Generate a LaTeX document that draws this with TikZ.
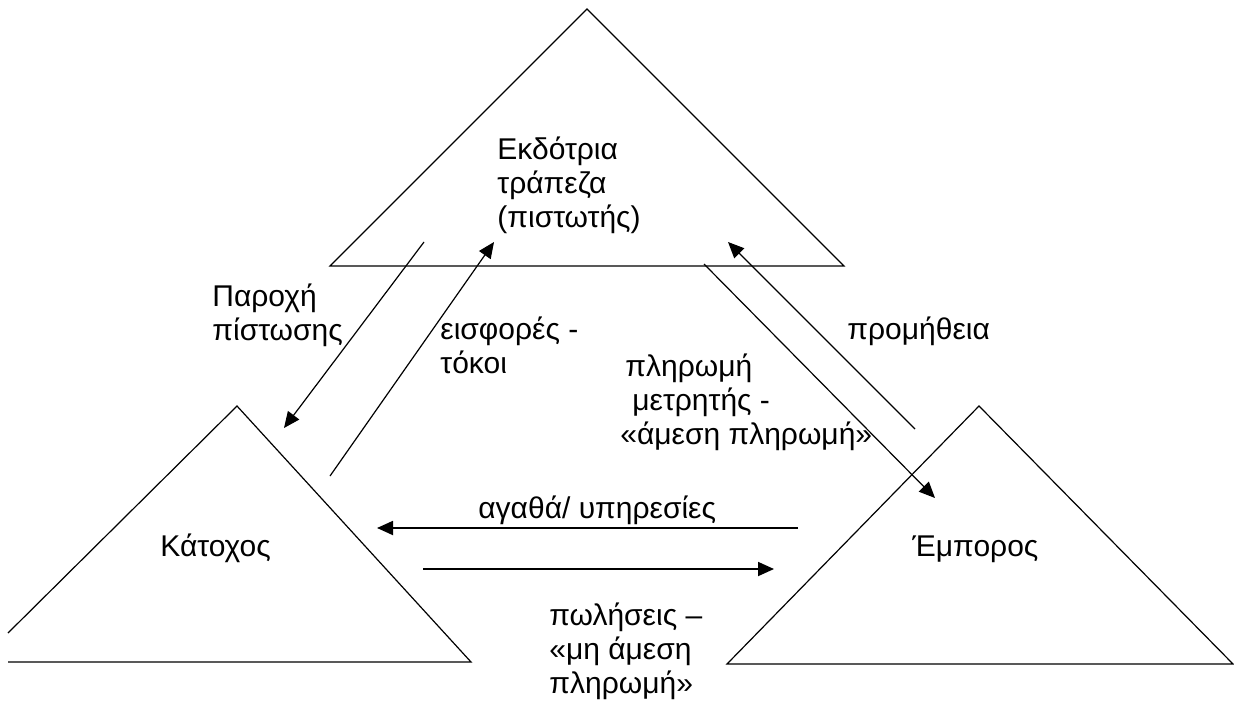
\documentclass[tikz,border=0pt]{standalone}
\usepackage{fontspec}
\setmainfont{Liberation Sans}
\usetikzlibrary{arrows.meta}

\begin{document}
\begin{tikzpicture}[x=0.5pt, y=-0.5pt,
    font=\fontsize{15}{17}\selectfont,
    tri/.style={line width=0.6pt, line join=miter},
    flow/.style={line width=0.6pt, -{Triangle[length=8pt, width=7pt]}},
    flowh/.style={line width=0.9pt, -{Triangle[length=8pt, width=7pt]}},
    lbl/.style={anchor=base west, inner sep=0pt, align=left}]
    \useasboundingbox (0,0) rectangle (1234,706);

    % three parties
    \draw[tri] (587,9) -- (330,266) -- (844,266) -- cycle;
    \draw[tri] (8,633) -- (237,406) -- (471,662) -- (8,662);
    \draw[tri] (979,406) -- (727,664) -- (1233,664) -- cycle;

    % multi-line labels sit on the baseline of their last line
    \node[lbl] (bank) at (497,227) {Εκδότρια\\τράπεζα\\(πιστωτής)};
    \node[lbl] (holder) at (160,556) {Κάτοχος};
    \node[lbl] (merchant) at (912,556) {Έμπορος};

    % flows
    \coordinate (credA) at (424,242);  \coordinate (credB) at (284,428);
    \coordinate (contA) at (330,476);  \coordinate (contB) at (494,242);
    \coordinate (payA) at (704,264);   \coordinate (payB) at (935,498);
    \coordinate (feeA) at (915,429);   \coordinate (feeB) at (728,242);
    \coordinate (goodsA) at (798,528); \coordinate (goodsB) at (377,528);
    \coordinate (salesA) at (423,569); \coordinate (salesB) at (774,569);

    \draw[flow] (credA) -- (credB);
    \draw[flow] (contA) -- (contB);
    \draw[flow] (payA) -- (payB);
    \draw[flow] (feeA) -- (feeB);
    \draw[flowh] (goodsA) -- (goodsB);
    \draw[flowh] (salesA) -- (salesB);

    \node[lbl] (credit) at (212,340) {Παροχή\\πίστωσης};
    \node[lbl] (contrib) at (440,373) {εισφορές -\\τόκοι};
    \node[lbl] (fee) at (847,339) {προμήθεια};
    \node[lbl] (cash) at (620,444) {\hspace*{2.5pt}πληρωμή\\\hspace*{6pt}μετρητής -\\«άμεση πληρωμή»};
    \node[lbl] (goods) at (478,518) {αγαθά/ υπηρεσίες};
    \node[lbl] (sales) at (549,693) {πωλήσεις –\\«μη άμεση\\πληρωμή»};
\end{tikzpicture}
\end{document}
